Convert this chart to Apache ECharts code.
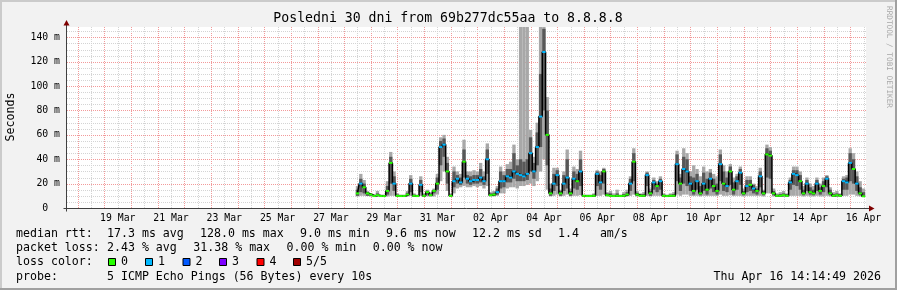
<!DOCTYPE html>
<html><head><meta charset="utf-8">
<script src="https://cdn.jsdelivr.net/npm/echarts@6/dist/echarts.min.js"></script>
<style>html,body{margin:0;padding:0;background:#f2f2f2}#c{width:897px;height:290px}</style>
</head><body><div id="c"></div>
<script>
// ---------------- data ----------------
const chartTitle = 'Posledni 30 dni from 69b277dc55aa to 8.8.8.8';
const yAxisName = 'Seconds';
const sideText = 'RRDTOOL / TOBI OETIKER';
const yTicks = [0, 20, 40, 60, 80, 100, 120, 140];
const xTickLabels = ['19 Mar','21 Mar','23 Mar','25 Mar','27 Mar','29 Mar','31 Mar','02 Apr','04 Apr','06 Apr','08 Apr','10 Apr','12 Apr','14 Apr','16 Apr'];
// series sampled every 3 h starting 28 Mar 12:00 (values in ms)
const seriesStart = {month: 'Mar', day: 28, hour: 12};
const stepHours = 3;
const med = [
 12,20,17,12,
 11,9.8,10.5,9.8,9.8,14,37,20,
 10,9.8,9.8,11,20,10,9.8,19,
 10,13,10.5,14,20,50,52,30,
 10,22,24,21,38,24,22,23,
 23,25,22,40,10.5,11,13,22,
 22,26,25,30,28,27,26,28,
 45,30,50,75,128,60,12,20,
 27,12,20,25,12,24,22,30,
 10,9.8,9.8,10,28,21,30,10.5,
 10,9.8,10,9.8,10,11,20,38,
 11,10,10,27,12,21,18,22,
 10,9.8,10,10,36,20,32,30,
 20,14,22,12,20,15,24,18,
 14,36,20,18,30,15,22,29,
 12,18,19,16,14,26,12,44,
 43,12,10,10,10.5,10,21,28,
 27,22,12,20,13,12,20,14,
 18,24,12,10,10.5,10,22,21,
 37,32,20,12,9.6
];
// highest ping
const hi = [
 18,28,23,14,
 12,10.8,14,11,11,22,46,30,
 12,11,11,14,27,12,11,26,
 12,15,13,16,28,58,60,42,
 12,34,30,28,56,30,30,31,
 30,37,30,53,13,14,18,34,
 30,36,38,52,40,150,150,150,
 64,42,70,150,150,91,20,33,
 33,15,30,48,16,34,32,47,
 11,11,11,12,31,30,33,13,
 14,12,15,11,13,15,26,49,
 14,12,13,30,16,25,22,26,
 12,11,12,13,47,28,49,45,
 30,35,32,26,34,30,32,28,
 26,48,35,30,36,25,28,34,
 16,26,26,20,18,33,15,52,
 50,16,12,13,14,12,25,34,
 34,30,18,25,20,18,25,20,
 25,27,17,13,14,12,26,27,
 49,45,30,22,16
];
// lowest ping
const lo = [
 9.5,10,10,9.8,
 9.5,9.3,9.5,9.3,9.3,9.5,10,10,
 9.3,9.3,9.3,9.5,10,9.3,9.3,10,
 9.3,9.5,9.3,9.5,11,22,30,14,
 9.5,12,16,17,18,17,17,18,
 17,18,16,18,9.5,9.5,10,12,
 12,16,17,17,16,18,18,19,
 20,18,22,30,40,15,9.5,10,
 11,9.5,10,11,9.5,10,10,10.5,
 9.3,9.3,9.3,9.3,10,10,11,9.5,
 9.3,9.3,9.3,9.3,9.3,9.5,10,11,
 9.5,9.3,9.3,10,9.5,10,10,10,
 9.3,9.3,9.3,9.3,11,10,11,11,
 10,9.8,10,9.5,10,9.8,10,10,
 9.8,11,10,10,10.5,9.8,10,10,
 9.5,10,10,10,9.8,10,9.5,12,
 12,9.5,9.3,9.3,9.5,9.3,10,10,
 10,10,9.5,10,9.5,9.5,10,9.5,
 9.5,10,9.5,9.3,9.3,9.3,10,10,
 11,11,10,9.5,9.3
];
// inner smoke (2nd and 4th ping)
const innerLo = [
 10,13,12,10,
 9.8,9.5,9.8,9.5,9.5,11,20,14,
 9.5,9.5,9.5,10,13,9.5,9.5,13,
 9.5,11,9.8,12,15,35,42,20,
 9.8,17,20,19,25,20,19,20,
 20,21,19,28,9.8,10,11,16,
 17,21,21,24,22,22,22,23,
 30,24,35,50,80,35,10,14,
 18,10,14,16,10,16,15,18,
 9.5,9.5,9.5,9.5,18,15,20,9.8,
 9.5,9.5,9.5,9.5,9.5,10,14,22,
 10,9.5,9.5,18,10,15,13,15,
 9.5,9.5,9.5,9.5,22,14,20,18,
 14,11,15,10.5,14,11,16,13,
 11,22,14,13,19,11,15,19,
 10.5,13,14,12,11,17,10.5,25,
 24,10.5,9.5,9.5,9.8,9.5,15,19,
 18,15,10.5,14,11,10.5,14,11,
 13,17,10.5,9.5,9.8,9.5,15,15,
 22,20,14,10.5,9.5
];
const innerHi = [
 15,24,20,13,
 11.5,10.3,12,10.3,10.3,18,42,26,
 11,10.3,10.3,12.5,24,11,10.3,23,
 11,14,12,15,25,55,57,37,
 11,30,27,25,48,27,26,27,
 27,32,26,48,12,12.5,16,30,
 27,32,32,45,35,40,38,40,
 58,37,62,110,147,80,16,28,
 31,14,27,40,14,30,28,40,
 10.5,10.3,10.3,11,30,27,32,12,
 12,10.5,12,10.3,11.5,13,24,45,
 12.5,11,11.5,29,14,23,20,24,
 11,10.3,11,11.5,44,25,42,40,
 26,25,28,18,29,24,29,24,
 20,44,30,25,34,21,26,32,
 14,23,23,19,16,30,14,49,
 47,14,11,11.5,12,11,23,31,
 31,27,15,23,17,15,23,17,
 22,26,15,11.5,12,11,24,25,
 45,40,26,17,13
];
const loss = [
 0,1,0,0,
 0,0,0,0,0,0,0,1,
 0,0,0,0,1,0,0,1,
 0,0,0,0,0,1,1,0,
 0,1,1,1,0,1,1,1,
 1,1,1,1,0,0,1,1,
 1,1,1,1,1,1,1,1,
 1,1,1,1,1,0,0,1,
 1,0,1,1,0,1,0,1,
 0,0,0,0,1,1,0,0,
 0,0,0,0,0,0,1,0,
 0,0,0,1,0,1,0,1,
 0,0,0,0,1,0,1,1,
 1,0,1,0,1,0,1,0,
 0,1,0,1,0,0,1,1,
 0,1,0,1,0,1,0,0,
 0,0,0,0,0,0,1,1,
 1,0,0,1,0,0,1,0,
 0,1,0,0,0,0,1,1,
 1,0,1,0,0
];
const lossLevels = ['0','1','2','3','4','5/5'];
const lossColors = ['#26ff00','#00b8ff','#0059ff','#7e00ff','#ff0000','#a10000'];
const medianRtt = {avg: '17.3', max: '128.0', min: '9.0', now: '9.6', sd: '12.2', ams: '1.4'};
const packetLoss = {avg: '2.43', max: '31.38', min: '0.00', now: '0.00'};
const probeText = '5 ICMP Echo Pings (56 Bytes) every 10s';
const stampText = 'Thu Apr 16 14:14:49 2026';
const graphEnd = {month: 'Apr', day: 16, hour: 14 + 14/60 + 49/3600};

// ---------------- build ----------------
const MONO = 'DejaVu Sans Mono';
const dayOf = (m, d, h) => (m === 'Mar' ? d - 1 : 30 + d) + h / 24;
const xMax = dayOf(graphEnd.month, graphEnd.day, graphEnd.hour);
const xMin = xMax - 30;
const yMax = 148.5;
const t0 = dayOf(seriesStart.month, seriesStart.day, seriesStart.hour);
const stepDays = stepHours / 24;
const xs = med.map((_, i) => t0 + i * stepDays);

const labelDays = xTickLabels.map(s => { const [d, m] = s.split(' '); return dayOf(m, +d, 12); });
const labelFor = v => { let best = 0; labelDays.forEach((d, i) => { if (Math.abs(d - v) < Math.abs(labelDays[best] - v)) best = i; }); return xTickLabels[best]; };

const gridItems = [];
for (let d = Math.ceil(xMin); d <= xMax; d++) gridItems.push([d, 0, 1]);
for (let d = Math.ceil(xMin - 0.5) + 0.5; d <= xMax; d++) gridItems.push([d, 0, 0]);
for (let v = 5; v < yMax; v += 5) gridItems.push([xMin, v, v % 20 === 0 ? 3 : 2]);

function renderGrid(params, api) {
  const kind = api.value(2);
  let x1, y1, x2, y2;
  if (kind < 2) {
    const a = api.coord([api.value(0), 0]), b = api.coord([api.value(0), yMax]);
    x1 = x2 = Math.round(a[0]) + 0.5; y1 = a[1]; y2 = b[1];
  } else {
    const a = api.coord([xMin, api.value(1)]), b = api.coord([xMax, api.value(1)]);
    y1 = y2 = Math.round(a[1]) + 0.5; x1 = a[0]; x2 = b[0];
  }
  return {type: 'line', silent: true, shape: {x1, y1, x2, y2},
    style: {stroke: kind % 2 ? '#f29a9a' : '#d4d4d4', lineWidth: 1, lineDash: [1, 1]}};
}

// smoke: one rectangle per sample between two ping values
const smokeRenderer = color => (params, api) => {
  const x = api.value(0), l = api.value(1), h = Math.min(api.value(2), yMax);
  const a = api.coord([x - stepDays / 2, l]), b = api.coord([x + stepDays / 2, h]);
  return {type: 'rect', silent: true, shape: {x: a[0], y: b[1], width: b[0] - a[0], height: a[1] - b[1]},
    style: {fill: color}};
};

const chart = echarts.init(document.getElementById('c'));
const option = {
  animation: false,
  backgroundColor: '#f2f2f2',
  grid: {left: 67, right: 31, top: 27, bottom: 82, show: true, backgroundColor: '#ffffff', borderWidth: 0},
  xAxis: {type: 'value', min: xMin, max: xMax,
    axisLine: {show: false}, axisTick: {show: false}, splitLine: {show: false},
    axisLabel: {customValues: labelDays, formatter: v => labelFor(v), fontFamily: MONO, fontSize: 9.8, color: '#000', margin: 5, hideOverlap: false}},
  yAxis: {type: 'value', min: 0, max: yMax,
    axisLine: {show: false}, axisTick: {show: false}, splitLine: {show: false},
    axisLabel: {customValues: yTicks, formatter: v => v === 0 ? '0  ' : v + ' m', fontFamily: MONO, fontSize: 9.8, color: '#000', margin: 7}},
  series: [
    {type: 'custom', renderItem: renderGrid, data: gridItems, z: 1, silent: true, clip: false},
    {type: 'custom', renderItem: smokeRenderer('#a8a8a8'), data: xs.map((x, i) => [x, lo[i], hi[i]]), z: 2, silent: true, clip: true},
    {type: 'custom', renderItem: smokeRenderer('#585858'), data: xs.map((x, i) => [x, innerLo[i], innerHi[i]]), z: 3, silent: true, clip: true},
    {type: 'line', step: 'middle', data: xs.map((x, i) => ({value: [x, med[i]], itemStyle: {color: lossColors[loss[i]]}})),
      symbol: 'rect', symbolSize: [3.4, 2], showSymbol: true, showAllSymbol: true,
      lineStyle: {color: '#000', width: 1.5}, z: 4, silent: true}
  ]
};
chart.setOption(option);

// decorations
const pO = chart.convertToPixel({gridIndex: 0}, [xMin, 0]);
const pE = chart.convertToPixel({gridIndex: 0}, [xMax, yMax]);
const ax = pO[0] - 0.5, ay = pO[1] + 0.5;
const g = [];
const txt = (x, y, text, opt = {}) => g.push({type: 'text', x, y, silent: true, rotation: opt.rot || 0,
  style: {text, fill: opt.fill || '#000', font: (opt.size || 11.6) + 'px "' + MONO + '"',
    textAlign: opt.align || 'left', textVerticalAlign: 'middle'}});
// frame
g.push({type: 'rect', shape: {x: 0, y: 0, width: 897, height: 2}, style: {fill: '#cbcbcb'}});
g.push({type: 'rect', shape: {x: 0, y: 0, width: 2, height: 290}, style: {fill: '#cbcbcb'}});
g.push({type: 'rect', shape: {x: 0, y: 288, width: 897, height: 2}, style: {fill: '#a0a0a0'}});
g.push({type: 'rect', shape: {x: 895, y: 0, width: 2, height: 290}, style: {fill: '#a0a0a0'}});
// axes
g.push({type: 'line', shape: {x1: ax, y1: ay + 3, x2: ax, y2: pE[1] - 3}, style: {stroke: '#404040', lineWidth: 1}});
g.push({type: 'line', shape: {x1: ax - 3, y1: ay, x2: pE[0] + 3, y2: ay}, style: {stroke: '#404040', lineWidth: 1}});
g.push({type: 'polygon', shape: {points: [[ax - 3, pE[1] - 1.5], [ax + 3, pE[1] - 1.5], [ax, pE[1] - 7]]}, style: {fill: '#7f0000'}});
g.push({type: 'polygon', shape: {points: [[pE[0] + 3, ay - 3], [pE[0] + 3, ay + 3], [pE[0] + 8.5, ay]]}, style: {fill: '#7f0000'}});
// title and side texts
txt(448, 18.5, chartTitle, {size: 13.2, align: 'center'});
txt(10.5, 117, yAxisName, {rot: Math.PI / 2, align: 'center'});
txt(888.5, 57, sideText, {rot: -Math.PI / 2, align: 'center', size: 7.7, fill: '#a8a8a8'});
// legend rows
const L1 = 234, L2 = 248.3, L3 = 262, L4 = 276.5;
txt(16, L1, 'median rtt:');
txt(107, L1, medianRtt.avg + ' ms avg');
txt(200, L1, medianRtt.max + ' ms max');
txt(300, L1, medianRtt.min + ' ms min');
txt(386, L1, medianRtt.now + ' ms now');
txt(472, L1, medianRtt.sd + ' ms sd');
txt(558, L1, medianRtt.ams + '   am/s');
txt(16, L2, 'packet loss:');
txt(107, L2, packetLoss.avg + ' % avg');
txt(193.3, L2, packetLoss.max + ' % max');
txt(286.5, L2, packetLoss.min + ' % min');
txt(372.7, L2, packetLoss.now + ' % now');
txt(16, L3, 'loss color:');
const boxX = [108, 145, 182.5, 219, 256.5, 293];
lossLevels.forEach((lv, i) => {
  g.push({type: 'rect', shape: {x: boxX[i] + 0.5, y: 258.5, width: 7, height: 7}, style: {fill: lossColors[i], stroke: '#000', lineWidth: 1}});
  txt(boxX[i] + 13, L3, lv);
});
txt(16, L4, 'probe:');
txt(107, L4, probeText);
txt(881, L4, stampText, {align: 'right'});
chart.setOption({graphic: {elements: g}});
</script></body></html>
